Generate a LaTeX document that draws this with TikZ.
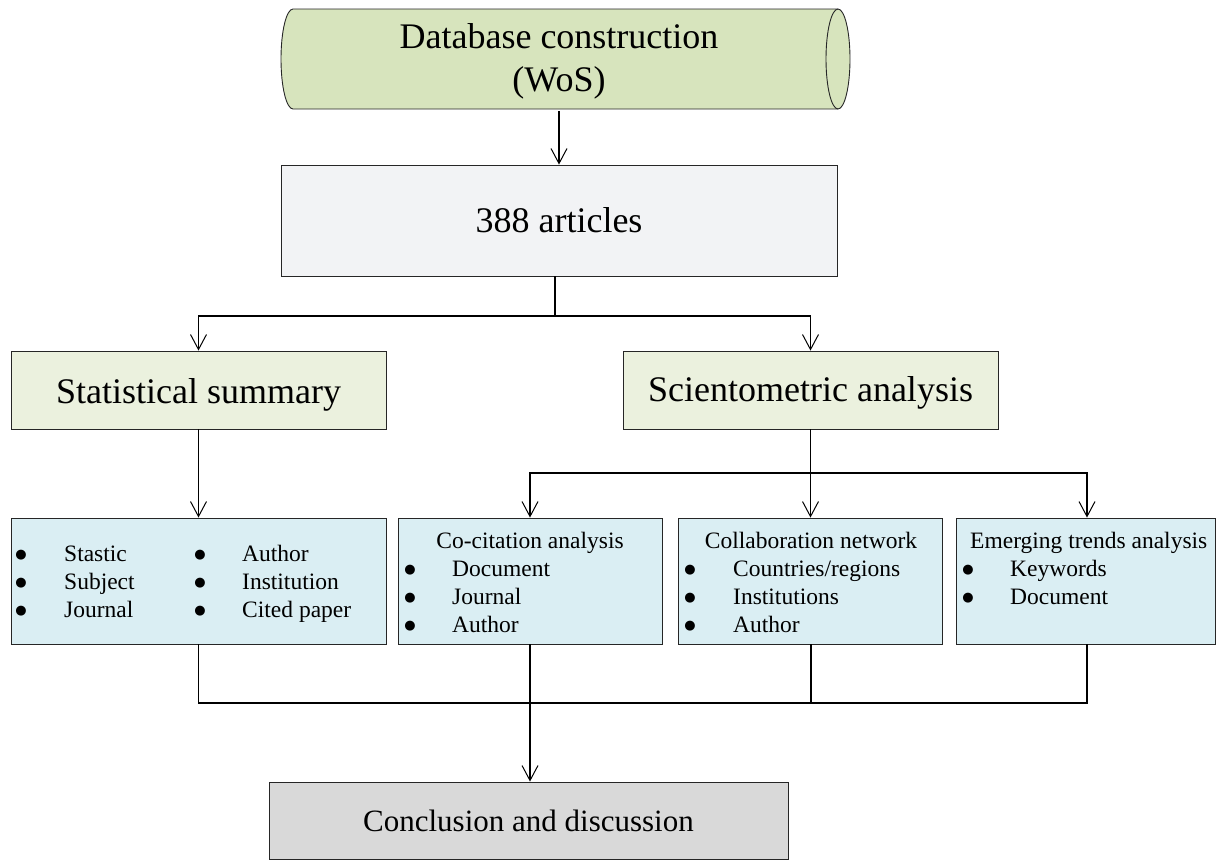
\documentclass[tikz,border=0pt]{standalone}
\usepackage{fontspec}
\setmainfont{Liberation Serif}
\newfontfamily\symfont{DejaVu Sans}
\usetikzlibrary{arrows.meta}
\definecolor{dbfill}{HTML}{D7E4BD}
\definecolor{artfill}{HTML}{F2F3F5}
\definecolor{greenfill}{HTML}{EBF1DE}
\definecolor{bluefill}{HTML}{DAEEF3}
\definecolor{grayfill}{HTML}{D9D9D9}
\begin{document}
\begin{tikzpicture}[x=1pt,y=-1pt,
  conn/.style={line width=1.1pt,draw=black},
  arr/.style={conn,-{Straight Barb[length=15pt,width=16pt,line width=1pt]}},
  box/.style={draw=black!85,line width=0.9pt,inner sep=0pt,font=\fontsize{36}{43}\selectfont,align=center},
  small/.style={inner sep=0pt,font=\fontsize{23.5}{28}\selectfont},
  blt/.style={inner sep=0pt,anchor=base,font=\symfont\fontsize{13}{15}\selectfont,yshift=3pt},
  itm/.style={small,anchor=base west}]
\useasboundingbox (0,0) rectangle (1216,860);

% cylinder
\filldraw[fill=dbfill,draw=black!85,line width=0.9pt]
  (293,9) -- (838,9) arc[start angle=-90,end angle=90,x radius=12,y radius=50]
  -- (293,109) arc[start angle=90,end angle=270,x radius=12,y radius=50] -- cycle;
\draw[black!85,line width=0.9pt] (838,9) arc[start angle=270,end angle=90,x radius=12,y radius=50];
\node[inner sep=0pt,minimum height=100pt,align=center,font=\fontsize{36}{43}\selectfont] (db) at (559,61) {Database construction\\(WoS)};

\node[box,fill=artfill,minimum width=556pt,minimum height=111pt] (art) at (559,220.5) {388 articles};
\node[box,fill=greenfill,minimum width=375pt,minimum height=78pt,text height=34pt,text depth=8pt] (stat) at (198.5,390) {Statistical summary};
\node[box,fill=greenfill,minimum width=375pt,minimum height=78pt,text height=31pt,text depth=8pt] (sci) at (810.5,390) {Scientometric analysis};

\node[box,fill=bluefill,minimum width=375pt,minimum height=126pt] (b1) at (198.5,581) {};
\node[box,fill=bluefill,minimum width=264pt,minimum height=126pt] (b2) at (530,581) {};
\node[box,fill=bluefill,minimum width=264pt,minimum height=126pt] (b3) at (810,581) {};
\node[box,fill=bluefill,minimum width=259pt,minimum height=126pt] (b4) at (1085.5,581) {};

\node[box,fill=grayfill,minimum width=519pt,minimum height=77pt,font=\fontsize{31}{37}\selectfont] (concl) at (528.5,820.5) {Conclusion and discussion};

% box 1 texts
\node[blt] (b1a) at (21,561) {●};
\node[blt] (b1b) at (21,589) {●};
\node[blt] (b1c) at (21,617) {●};
\node[itm] (t1a) at (64,561) {Stastic};
\node[itm] (t1b) at (64,589) {Subject};
\node[itm] (t1c) at (64,617) {Journal};
\node[blt] (b1d) at (200,561) {●};
\node[blt] (b1e) at (200,589) {●};
\node[blt] (b1f) at (200,617) {●};
\node[itm] (t1d) at (242,561) {Author};
\node[itm] (t1e) at (242,589) {Institution};
\node[itm] (t1f) at (242,617) {Cited paper};

% box 2 texts
\node[small,anchor=base] (h2) at (530,548) {Co-citation analysis};
\node[blt] (b2a) at (410,576) {●};
\node[blt] (b2b) at (410,604) {●};
\node[blt] (b2c) at (410,632) {●};
\node[itm] (t2a) at (452,576) {Document};
\node[itm] (t2b) at (452,604) {Journal};
\node[itm] (t2c) at (452,632) {Author};

% box 3 texts
\node[small,anchor=base] (h3) at (811,548) {Collaboration network};
\node[blt] (b3a) at (690,576) {●};
\node[blt] (b3b) at (690,604) {●};
\node[blt] (b3c) at (690,632) {●};
\node[itm] (t3a) at (733,576) {Countries/regions};
\node[itm] (t3b) at (733,604) {Institutions};
\node[itm] (t3c) at (733,632) {Author};

% box 4 texts
\node[small,anchor=base west] (h4) at (970,548) {Emerging trends analysis};
\node[blt] (b4a) at (968,576) {●};
\node[blt] (b4b) at (968,604) {●};
\node[itm] (t4a) at (1010,576) {Keywords};
\node[itm] (t4b) at (1010,604) {Document};

% connectors
\draw[arr] (db.south) -- (db.south |- art.north);
\coordinate (j1) at (555,316);
\draw[conn] (art.south -| j1) -- (j1);
\draw[arr] (j1) -| (stat.north);
\draw[arr] (j1) -| (sci.north);
\draw[arr] (stat.south) -- (b1.north);
\coordinate (j2) at (810.5,473);
\draw[conn] (sci.south) -- (j2);
\draw[arr] (j2) -| (b2.north);
\draw[arr] (j2) -- (j2 |- b3.north);
\draw[arr] (j2) -| (b4.north -| 1087,0);
\coordinate (j3) at (530,703);
\draw[conn] (b1.south) -- (b1.south |- j3) -- (j3 -| 1087,0) -- (1087,644);
\draw[conn] (b3.south -| 811,0) -- (j3 -| 811,0);
\draw[arr] (b2.south) -- (b2.south |- concl.north);
\end{tikzpicture}
\end{document}
